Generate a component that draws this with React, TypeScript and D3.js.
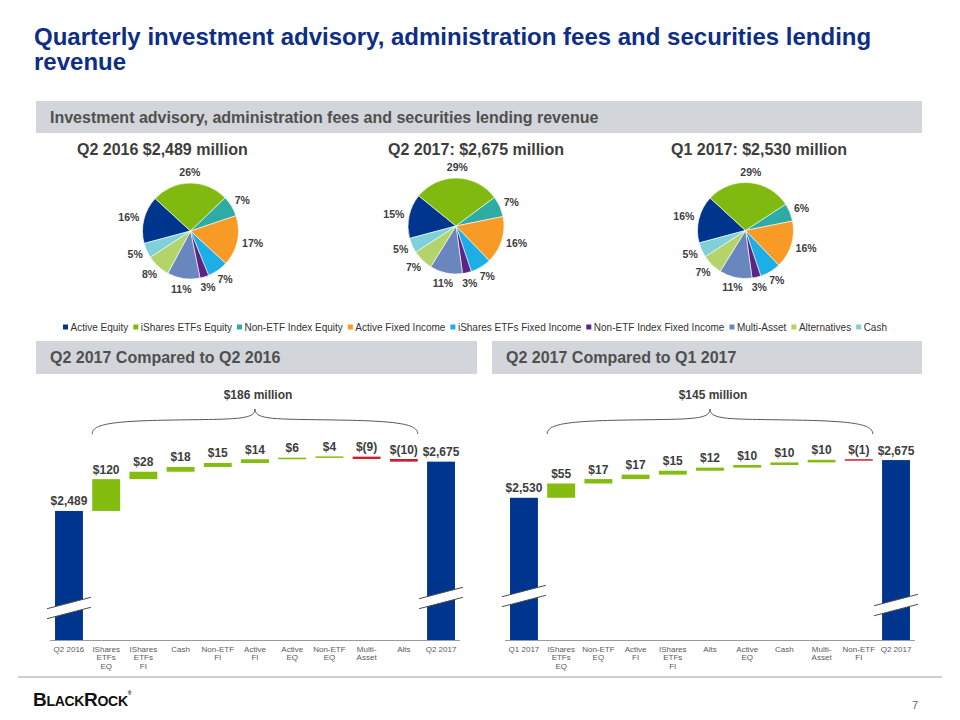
import React from "react";
import * as d3 from "d3";

const FONT = "'Liberation Sans', Arial, Helvetica, sans-serif";

// ---------- data ----------
const titleLines = [
  "Quarterly investment advisory, administration fees and securities lending",
  "revenue",
];
const headerText = "Investment advisory, administration fees and securities lending revenue";

const pieCategories = [
  "Active Equity",
  "iShares ETFs Equity",
  "Non-ETF Index Equity",
  "Active Fixed Income",
  "iShares ETFs Fixed Income",
  "Non-ETF Index Fixed Income",
  "Multi-Asset",
  "Alternatives",
  "Cash",
];
const pieColors = [
  "#00358E",
  "#80BA10",
  "#2FABA6",
  "#F79B26",
  "#1CAFE6",
  "#5C2483",
  "#6A86BF",
  "#B2D46A",
  "#7FD0D9",
];
const pieTitles = ["Q2 2016 $2,489 million", "Q2 2017: $2,675 million", "Q1 2017: $2,530 million"];
const pieQ2_2016 = [16, 26, 7, 17, 7, 3, 11, 8, 5];
const pieQ2_2017 = [15, 29, 7, 16, 7, 3, 11, 7, 5];
const pieQ1_2017 = [16, 29, 6, 16, 7, 3, 11, 7, 5];

const sectionTitles = ["Q2 2017 Compared to Q2 2016", "Q2 2017 Compared to Q1 2017"];

const wfLeftLabels = [
  "Q2 2016",
  "IShares\nETFs\nEQ",
  "IShares\nETFs\nFI",
  "Cash",
  "Non-ETF\nFI",
  "Active\nFI",
  "Active\nEQ",
  "Non-ETF\nEQ",
  "Multi-\nAsset",
  "Alts",
  "Q2 2017",
];
const wfLeftValues = [2489, 120, 28, 18, 15, 14, 6, 4, -9, -10, 2675];

const wfRightLabels = [
  "Q1 2017",
  "IShares\nETFs\nEQ",
  "Non-ETF\nEQ",
  "Active\nFI",
  "IShares\nETFs\nFI",
  "Alts",
  "Active\nEQ",
  "Cash",
  "Multi-\nAsset",
  "Non-ETF\nFI",
  "Q2 2017",
];
const wfRightValues = [2530, 55, 17, 17, 15, 12, 10, 10, 10, -1, 2675];

// ---------- style ----------
const TITLE_COLOR = "#0E2E85";
const BAR_GRAY = "#D2D5D9";
const HEAD_TEXT = "#4F4F4F";
const DARK_TEXT = "#3D3D3D";
const GREEN = "#84BD0F";
const BLUE = "#00358E";
const RED = "#CC1F2D";

let _ctx: CanvasRenderingContext2D | null = null;
function measure(text: string, font: string): number {
  if (!_ctx) _ctx = document.createElement("canvas").getContext("2d");
  if (!_ctx) return text.length * 6;
  _ctx.font = font;
  return _ctx.measureText(text).width;
}

const fmtMoney = (v: number) =>
  v < 0 ? `$(${d3.format(",")(-v)})` : `$${d3.format(",")(v)}`;

const START = (-105 * Math.PI) / 180;

function Pie({ cx, cy, r, values, title, tx }: { cx: number; cy: number; r: number; values: number[]; title: string; tx: number }) {
  const pie = d3
    .pie<number>()
    .sort(null)
    .value((d) => d)
    .startAngle(START)
    .endAngle(START + 2 * Math.PI);
  const arcs = pie(values);
  const arc = d3.arc<d3.PieArcDatum<number>>().innerRadius(0).outerRadius(r);
  const lblFont = `bold 10.5px ${FONT}`;
  return (
    <g>
      <text x={tx} y={155} fontSize={16} fontWeight="bold" fill={DARK_TEXT}>
        {title}
      </text>
      <g transform={`translate(${cx},${cy})`}>
        {arcs.map((a, i) => (
          <path key={i} d={arc(a) || ""} fill={pieColors[i]} stroke="#ffffff" strokeWidth={0.6} />
        ))}
      </g>
      {arcs.map((a, i) => {
        const mid = (a.startAngle + a.endAngle) / 2;
        const s = Math.sin(mid);
        const c = Math.cos(mid);
        const label = `${values[i]}%`;
        const w = measure(label, lblFont);
        const h = 11;
        const R = r + 5;
        const x = cx + s * R + (s * w) / 2;
        const y = cy - c * R - (c * h) / 2;
        return (
          <text key={i} x={x} y={y} dy="0.35em" textAnchor="middle" fontSize={10.5} fontWeight="bold" fill={DARK_TEXT}>
            {label}
          </text>
        );
      })}
    </g>
  );
}

function Legend() {
  const font = `10px ${FONT}`;
  const widths = pieCategories.map((c) => measure(c, font));
  const x0 = 63;
  const x1 = 887;
  const markerW = 5;
  const mGap = 2.5;
  const sum = widths.reduce((a, b) => a + b + markerW + mGap, 0);
  const gap = (x1 - x0 - sum) / (pieCategories.length - 1);
  let x = x0;
  const yC = 327;
  return (
    <g>
      {pieCategories.map((c, i) => {
        const mx = x;
        x += markerW + mGap + widths[i] + gap;
        return (
          <g key={c}>
            <rect x={mx} y={yC - 2.5} width={markerW} height={markerW} fill={pieColors[i]} />
            <text x={mx + markerW + mGap} y={yC} dy="0.35em" fontSize={10} fill="#333">
              {c}
            </text>
          </g>
        );
      })}
    </g>
  );
}

function Waterfall({
  x0,
  x1,
  labels,
  values,
  domain,
  k,
  breaks,
}: {
  x0: number;
  x1: number;
  labels: string[];
  values: number[];
  domain: [number, number];
  k: number;
  breaks: [number, number];
}) {
  const baseY = 640;
  const x = d3
    .scaleBand<number>()
    .domain(labels.map((_, i) => i))
    .range([x0, x1])
    .paddingInner(0.25)
    .paddingOuter(0.135);
  const y = d3
    .scaleLinear()
    .domain(domain)
    .range([baseY, baseY - (domain[1] - domain[0]) * k]);
  const n = values.length;
  let cum = 0;
  const bars = values.map((v, i) => {
    let a: number, b: number, color: string;
    if (i === 0) {
      a = domain[0];
      b = v;
      cum = v;
      color = BLUE;
    } else if (i === n - 1) {
      a = domain[0];
      b = v;
      color = BLUE;
    } else {
      a = cum;
      b = cum + v;
      cum = b;
      color = v >= 0 ? GREEN : RED;
    }
    let top = Math.min(y(a), y(b));
    let bot = Math.max(y(a), y(b));
    if (bot - top < 1.5) {
      const m = (top + bot) / 2;
      top = m - 0.75;
      bot = m + 0.75;
    }
    return { i, v, top, bot, color };
  });
  const bw = x.bandwidth();
  const bx0 = x(1)!;
  const bx1 = x(n - 2)! + bw;
  const xc = (bx0 + bx1) / 2;
  const y0 = 434;
  const ym = 421;
  const yp = 409;
  const L = xc - bx0;
  const brace =
    `M${bx0},${y0} C${bx0},${y0 - 10} ${bx0 + 0.12 * L},${ym} ${bx0 + 0.5 * L},${ym - 1}` +
    ` C${bx0 + 0.88 * L},${ym - 2} ${xc},${ym - 1} ${xc},${yp}` +
    ` C${xc},${ym - 1} ${bx1 - 0.88 * L},${ym - 2} ${bx1 - 0.5 * L},${ym - 1}` +
    ` C${bx1 - 0.12 * L},${ym} ${bx1},${y0 - 10} ${bx1},${y0}`;
  const total = values[n - 1] - values[0];
  const breakIdx = [0, n - 1];
  const slope = 0.26;
  const hl = bw / 2 + 8;
  const gap = 10;
  return (
    <g>
      <path d={brace} fill="none" stroke="#555" strokeWidth={1} />
      <text x={xc + 3} y={399} textAnchor="middle" fontSize={12} fontWeight="bold" fill={DARK_TEXT}>
        {`${fmtMoney(total)} million`}
      </text>
      {bars.map((b) => (
        <g key={b.i}>
          <rect x={x(b.i)} y={b.top} width={bw} height={b.bot - b.top} fill={b.color} />
          <text
            x={x(b.i)! + bw / 2}
            y={b.top - 5.5}
            textAnchor="middle"
            fontSize={12}
            fontWeight="bold"
            fill={DARK_TEXT}
          >
            {fmtMoney(b.v)}
          </text>
        </g>
      ))}
      {breakIdx.map((bi, j) => {
        const cx = x(bi)! + bw / 2;
        const yc = breaks[j];
        const ax = cx - hl;
        const bxx = cx + hl;
        const t1 = yc - gap / 2 + hl * slope;
        const t2 = yc - gap / 2 - hl * slope;
        const b1 = yc + gap / 2 + hl * slope;
        const b2 = yc + gap / 2 - hl * slope;
        return (
          <g key={bi}>
            <polygon points={`${ax},${t1} ${bxx},${t2} ${bxx},${b2} ${ax},${b1}`} fill="#fff" />
            <line x1={ax} y1={t1} x2={bxx} y2={t2} stroke="#4a4a4a" strokeWidth={1} />
            <line x1={ax} y1={b1} x2={bxx} y2={b2} stroke="#4a4a4a" strokeWidth={1} />
          </g>
        );
      })}
      <line x1={x0} x2={x1} y1={baseY + 0.5} y2={baseY + 0.5} stroke="#9a9a9a" strokeWidth={1} />
      {labels.map((l, i) => (
        <text key={i} x={x(i)! + bw / 2} y={652} textAnchor="middle" fontSize={8} fill="#595959">
          {l.split("\n").map((line, j) => (
            <tspan key={j} x={x(i)! + bw / 2} dy={j === 0 ? 0 : 8.3}>
              {line}
            </tspan>
          ))}
        </text>
      ))}
    </g>
  );
}

const pieLayout = [
  { cx: 190.5, cy: 231, tx: 77, values: pieQ2_2016 },
  { cx: 456, cy: 226, tx: 388, values: pieQ2_2017 },
  { cx: 745.5, cy: 230.5, tx: 671, values: pieQ1_2017 },
];

export default function App() {
  return (
    <svg
      width={960}
      height={720}
      viewBox="0 0 960 720"
      style={{ position: "absolute", left: 0, top: 0, display: "block" }}
      fontFamily={FONT}
    >
      <rect x={0} y={0} width={960} height={720} fill="#ffffff" />
      <text x={34} y={45} fontSize={24} fontWeight="bold" fill={TITLE_COLOR}>
        {titleLines[0]}
      </text>
      <text x={34} y={70} fontSize={24} fontWeight="bold" fill={TITLE_COLOR}>
        {titleLines[1]}
      </text>

      <rect x={36} y={101} width={886} height={32} fill={BAR_GRAY} />
      <text x={50} y={123} fontSize={16} fontWeight="bold" fill={HEAD_TEXT}>
        {headerText}
      </text>

      {pieLayout.map((p, i) => (
        <Pie key={i} cx={p.cx} cy={p.cy} r={48} values={p.values} title={pieTitles[i]} tx={p.tx} />
      ))}

      <Legend />

      <rect x={36} y={341} width={441} height={33} fill={BAR_GRAY} />
      <text x={50} y={363} fontSize={16} fontWeight="bold" fill={HEAD_TEXT}>
        {sectionTitles[0]}
      </text>
      <rect x={492} y={341} width={430} height={33} fill={BAR_GRAY} />
      <text x={506} y={363} fontSize={16} fontWeight="bold" fill={HEAD_TEXT}>
        {sectionTitles[1]}
      </text>

      <Waterfall x0={50} x1={460} labels={wfLeftLabels} values={wfLeftValues} domain={[2002, 2700]} k={0.265} breaks={[608, 598]} />
      <Waterfall x0={505} x1={915} labels={wfRightLabels} values={wfRightValues} domain={[1983, 2700]} k={0.26} breaks={[596, 605]} />

      <line x1={18} x2={942} y1={677} y2={677} stroke="#9a9a9a" strokeWidth={1} />

      <text x={33} y={706} fontWeight="bold" fill="#111" letterSpacing={-0.3}>
        <tspan fontSize={19}>B</tspan>
        <tspan fontSize={14}>LACK</tspan>
        <tspan fontSize={19}>R</tspan>
        <tspan fontSize={14}>OCK</tspan>
        <tspan fontSize={5} dy={-11}>®</tspan>
      </text>
      <text x={912} y={709} fontSize={11} fill="#666">
        7
      </text>
    </svg>
  );
}
